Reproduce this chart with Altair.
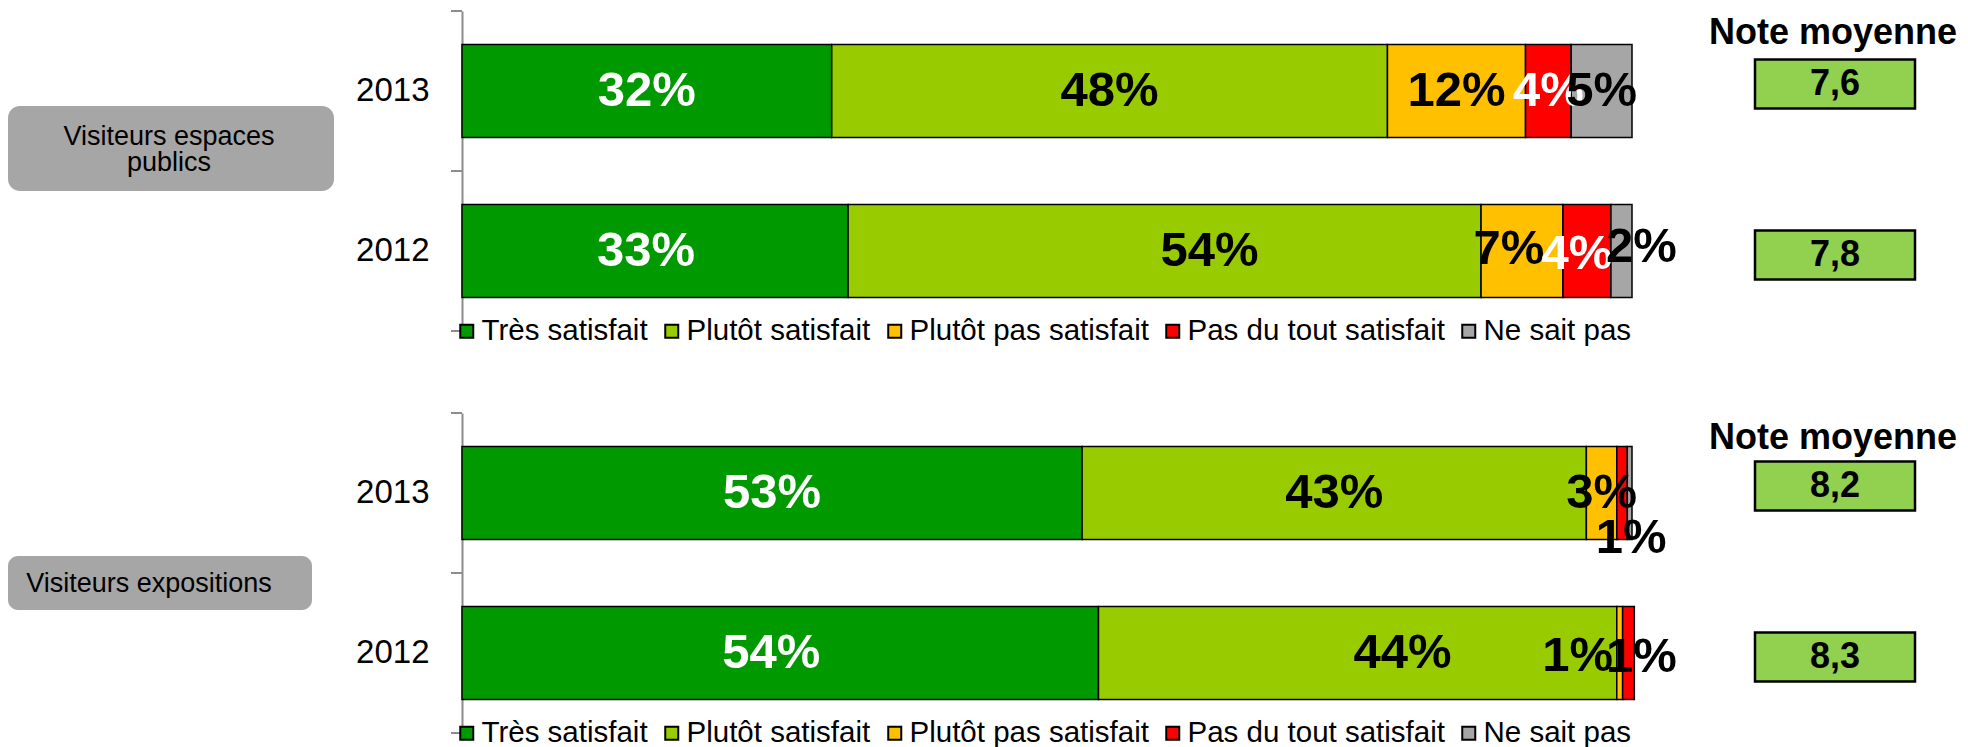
import altair as alt
import pandas as pd

# ---------------- data ----------------
categories = ["Très satisfait", "Plutôt satisfait", "Plutôt pas satisfait",
              "Pas du tout satisfait", "Ne sait pas"]
colors = ["#009900", "#99cc00", "#ffc000", "#ff0000", "#a6a6a6"]
years = ["2013", "2012"]
groups = ["Visiteurs espaces\npublics", "Visiteurs expositions"]

pub_2013 = [31.6, 47.5, 11.8, 3.9, 5.2]
pub_2012 = [33.0, 54.1, 7.0, 4.1, 1.8]
expo_2013 = [53.0, 43.1, 2.6, 0.9, 0.4]
expo_2012 = [54.4, 44.3, 0.5, 1.0, 0.0]

notes_pub = [7.6, 7.8]
notes_expo = [8.2, 8.3]
note_title = "Note moyenne"

FONT = "Liberation Sans, Arial, sans-serif"
AXIS_GREY = "#8c8c8c"


def pct(v):
    r = int(v + 0.5)
    return f"{r}%" if r > 0 else ""


def fmt_note(v):
    return f"{v:.1f}".replace(".", ",")


def panel_df(v2013, v2012):
    rows = []
    for year, vals in zip(years, [v2013, v2012]):
        for i, (c, v) in enumerate(zip(categories, vals)):
            rows.append(dict(year=year, cat=c, order=i, value=v, label=pct(v)))
    return pd.DataFrame(rows)


def sel(year, cat):
    return f"(datum.year == '{year}' && datum.cat == '{cat}')"


def make_panel(df, notes, group_text, box, text_pos, nudges, white_red, title_y):
    yenc = alt.Y(
        "year:N", sort=years, title=None,
        scale=alt.Scale(paddingInner=0.42, paddingOuter=0.21),
        axis=alt.Axis(labelFont=FONT, labelFontSize=33, labelColor="black",
                      domainColor=AXIS_GREY, domainWidth=2, ticks=False,
                      labelPadding=33),
    )
    xs = alt.Scale(domain=[0, 100], nice=False, zero=False)

    base = alt.Chart(df).transform_window(
        cum="sum(value)", groupby=["year"],
        sort=[alt.SortField("order", order="ascending")], frame=[None, 0],
    ).transform_calculate(
        start="datum.cum - datum.value",
        mid="datum.cum - datum.value / 2",
    )

    bars = base.transform_filter("datum.value > 0").mark_bar(
        stroke="black", strokeWidth=1.5
    ).encode(
        x=alt.X("start:Q", scale=xs, axis=None),
        x2="cum:Q",
        y=yenc,
        color=alt.Color(
            "cat:N", scale=alt.Scale(domain=categories, range=colors),
            legend=alt.Legend(
                orient="none", legendX=-10, legendY=305, direction="horizontal",
                columns=5, title=None, symbolType="square", symbolSize=169,
                symbolStrokeColor="black", symbolStrokeWidth=2, symbolOpacity=1,
                labelFont=FONT, labelFontSize=29.5, labelColor="black",
                labelOffset=0, columnPadding=9, labelLimit=600, padding=0,
            ),
        ),
    )

    whitecond = alt.datum.cat == "Très satisfait"
    if white_red:
        whitecond = whitecond | (alt.datum.cat == "Pas du tout satisfait")

    def labels(filter_expr, dx=0, dy=0):
        return base.transform_filter(filter_expr).mark_text(
            font=FONT, fontSize=49, fontWeight="bold", align="center",
            baseline="middle", dx=dx, dy=dy,
        ).encode(
            x=alt.X("mid:Q", scale=xs, axis=None),
            y=yenc,
            text="label:N",
            color=alt.condition(whitecond, alt.value("white"), alt.value("black")),
        )

    special = " || ".join(sel(y, c) for (y, c, _, _) in nudges)
    layers_lbl = [labels(f"datum.label != '' && !({special})")]
    for (y, c, dx, dy) in nudges:
        layers_lbl.append(labels(f"datum.label != '' && {sel(y, c)}", dx, dy))

    gdf = pd.DataFrame({"txt": [group_text]})
    x0, x1, y0, y1, rad = box
    gbox = alt.Chart(gdf).mark_rect(cornerRadius=rad, color="#a6a6a6").encode(
        x=alt.value(x0), x2=alt.value(x1), y=alt.value(y0), y2=alt.value(y1)
    )
    gtext = alt.Chart(gdf).mark_text(
        font=FONT, fontSize=27, lineBreak="\n", lineHeight=26, color="black",
        align="center", baseline="middle",
    ).encode(x=alt.value(text_pos[0]), y=alt.value(text_pos[1]), text="txt:N")

    # axis ticks between the bars (at the category boundaries)
    ticks = [
        alt.Chart(gdf).mark_rule(color=AXIS_GREY, strokeWidth=2).encode(
            x=alt.value(-11), x2=alt.value(0), y=alt.value(ty)
        )
        for ty in (0, 160, 320)
    ]

    ndf = pd.DataFrame({"year": years, "note": notes,
                        "txt": [fmt_note(n) for n in notes]})
    note_layers = []
    for yr, off in (("2013", -7), ("2012", 4)):
        sub = alt.Chart(ndf).transform_filter(f"datum.year == '{yr}'")
        note_layers.append(sub.mark_bar(
            height=49, fill="#92d050", stroke="black", strokeWidth=2.5, yOffset=off
        ).encode(x=alt.value(1293), x2=alt.value(1453), y=yenc))
        note_layers.append(sub.mark_text(
            font=FONT, fontSize=36, fontWeight="bold", color="black",
            align="center", baseline="middle", dy=off,
        ).encode(x=alt.value(1373), y=yenc, text="txt:N"))
    ttl = alt.Chart(pd.DataFrame({"t": [note_title]})).mark_text(
        font=FONT, fontSize=36, fontWeight="bold", color="black",
        align="center", baseline="alphabetic",
    ).encode(x=alt.value(1371), y=alt.value(title_y), text="t:N")

    return alt.layer(gbox, gtext, *ticks, bars, *layers_lbl, *note_layers, ttl).properties(
        width=1170, height=320
    )


common_nudges = [("2012", "Très satisfait", -9, 0), ("2012", "Plutôt satisfait", 45, 0)]
nudges_pub = common_nudges + [
    ("2012", "Plutôt pas satisfait", -13, -2),
    ("2012", "Pas du tout satisfait", -10, 3),
    ("2012", "Ne sait pas", 20, -4),
]
nudges_expo = common_nudges + [
    ("2013", "Pas du tout satisfait", 9, 45),
    ("2012", "Plutôt pas satisfait", -42, 3),
    ("2012", "Pas du tout satisfait", 13, 4),
]

top = make_panel(panel_df(pub_2013, pub_2012), notes_pub, groups[0],
                 (-454, -128, 95, 180, 12), (-293, 126), nudges_pub, True, 33)
bot = make_panel(panel_df(expo_2013, expo_2012), notes_expo, groups[1],
                 (-454, -150, 143, 197, 10), (-313, 171), nudges_expo, False, 36)

chart = alt.vconcat(top, bot, spacing=82, bounds="flush").resolve_scale(
    color="independent", y="independent"
).resolve_legend(color="independent").properties(
    padding={"top": 2, "left": 0, "right": 0, "bottom": 0}
).configure_view(stroke=None)

chart.save("out.html", embed_options={"renderer": "svg", "actions": False})
